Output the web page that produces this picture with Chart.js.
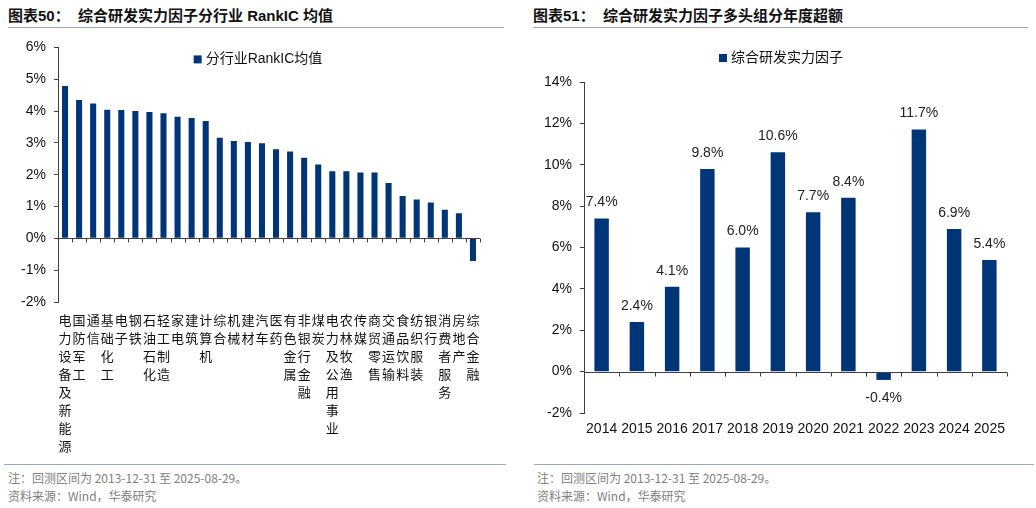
<!DOCTYPE html>
<html>
<head>
<meta charset="utf-8">
<script src="https://cdn.jsdelivr.net/npm/chart.js@4.4.1/dist/chart.umd.min.js"></script>
<style>
    body { margin: 0; background: #fff; width: 1036px; height: 508px; position: relative; overflow: hidden;
           font-family: Arial, "Liberation Sans", "Noto Sans CJK SC", sans-serif; }
    .title { position: absolute; top: 6px; font-size: 15px; line-height: 20px; font-weight: bold; color: #111; white-space: nowrap; }
    .rule { position: absolute; height: 1px; background: #9aabbf; }
    .note { position: absolute; font-size: 12px; line-height: 16px; color: #808080; white-space: nowrap;
            font-family: "Liberation Sans Narrow", "Noto Sans CJK SC", sans-serif; }
    .box { position: absolute; }
</style>
</head>
<body>
<div class="title" style="left:8px">图表50： &nbsp;综合研发实力因子分行业 RankIC 均值</div>
<div class="rule" style="left:8px;width:496px;top:27px"></div>
<div class="title" style="left:533px">图表51： &nbsp;综合研发实力因子多头组分年度超额</div>
<div class="rule" style="left:533px;width:495px;top:27px"></div>

<div class="box" style="left:0;top:31px;width:510px;height:430px"><canvas id="industryChart"></canvas></div>
<div class="box" style="left:520px;top:36px;width:516px;height:410px"><canvas id="yearChart"></canvas></div>

<div class="rule" style="left:4px;width:502px;top:464px"></div>
<div class="rule" style="left:534px;width:500px;top:464px"></div>
<div class="note" style="left:8px;top:470px">注：回测区间为 2013-12-31 至 2025-08-29。</div>
<div class="note" style="left:8px;top:488px">资料来源：Wind，华泰研究</div>
<div class="note" style="left:537px;top:470px">注：回测区间为 2013-12-31 至 2025-08-29。</div>
<div class="note" style="left:537px;top:488px">资料来源：Wind，华泰研究</div>

<script>
// data (values in %)
const industries = ['电力设备及新能源', '国防军工', '通信', '基础化工', '电子', '钢铁', '石油石化', '轻工制造',
    '家电', '建筑', '计算机', '综合', '机械', '建材', '汽车', '医药', '有色金属', '非银行金融', '煤炭',
    '电力及公用事业', '农林牧渔', '传媒', '商贸零售', '交通运输', '食品饮料', '纺织服装', '银行',
    '消费者服务', '房地产', '综合金融'];
const rankIC = [4.79, 4.35, 4.24, 4.04, 4.03, 4.00, 3.97, 3.93, 3.82, 3.78, 3.69, 3.16, 3.06, 3.03, 2.99,
    2.80, 2.73, 2.53, 2.32, 2.11, 2.11, 2.07, 2.07, 1.74, 1.33, 1.22, 1.13, 0.90, 0.79, -0.71];

const years = ['2014', '2015', '2016', '2017', '2018', '2019', '2020', '2021', '2022', '2023', '2024', '2025'];
const excess = [7.4, 2.4, 4.1, 9.8, 6.0, 10.6, 7.7, 8.4, -0.4, 11.7, 6.9, 5.4];

const barColor = '#003578';
const axisColor = '#404040';
const latinFont = "Arial, 'Liberation Sans', sans-serif";
const cjkFont = "'Noto Sans CJK SC', sans-serif";

// zero line with small ticks between categories
const zeroAxis = {
    id: 'zeroAxis',
    afterDatasetsDraw(chart) {
        const { ctx, chartArea, scales: { x, y } } = chart;
        const y0 = Math.round(y.getPixelForValue(0)) + 0.5;
        ctx.save();
        ctx.strokeStyle = axisColor;
        ctx.lineWidth = 1;
        ctx.beginPath();
        ctx.moveTo(chartArea.left, y0);
        ctx.lineTo(chartArea.right, y0);
        for (let i = 0; i <= x.ticks.length; i++) {
            const px = Math.round(x.getPixelForValue(i - 0.5)) + 0.5;
            ctx.moveTo(px, y0);
            ctx.lineTo(px, y0 + 4);
        }
        ctx.stroke();
        ctx.restore();
    }
};

// value labels above (or below) the bars
const valueLabels = {
    id: 'valueLabels',
    afterDatasetsDraw(chart) {
        const { ctx } = chart;
        const ds = chart.data.datasets[0];
        ctx.save();
        ctx.font = '14px ' + latinFont;
        ctx.fillStyle = '#222';
        ctx.textAlign = 'center';
        ctx.textBaseline = 'middle';
        chart.getDatasetMeta(0).data.forEach((bar, i) => {
            const v = ds.data[i];
            const ty = v >= 0 ? bar.y - 16 : bar.y + 18;
            ctx.fillText(v.toFixed(1) + '%', bar.x, ty);
        });
        ctx.restore();
    }
};

// single-item legend, centred on the panel, offset from the plot top
const panelLegend = {
    id: 'panelLegend',
    afterDraw(chart, args, opts) {
        const { ctx, chartArea } = chart;
        const ds = chart.data.datasets[0];
        ctx.save();
        ctx.font = '14px ' + latinFont.replace('sans-serif', cjkFont);
        const tw = ctx.measureText(ds.label).width;
        const total = 8 + 4 + tw;
        const x0 = chart.width / 2 + 3 - total / 2;
        const cy = chartArea.top + opts.offset;
        ctx.fillStyle = ds.backgroundColor;
        ctx.fillRect(x0, cy - 4, 8, 8);
        ctx.fillStyle = '#111';
        ctx.textBaseline = 'middle';
        ctx.fillText(ds.label, x0 + 12, cy);
        ctx.restore();
    }
};

function yScale(min, max, step, width) {
    return {
        min, max,
        afterFit: s => { s.width = width; },
        border: { display: true, color: axisColor },
        grid: { display: true, drawOnChartArea: false, tickLength: 4, color: axisColor },
        ticks: { stepSize: step, padding: 8, color: '#111', font: { size: 14, family: latinFont },
                 callback: v => v + '%' }
    };
}

function createBarChart(canvasId, labels, values, name, opts) {
    return new Chart(document.getElementById(canvasId), {
        type: 'bar',
        data: { labels, datasets: [{ label: name, data: values, backgroundColor: barColor,
                                     barPercentage: opts.barPercentage, categoryPercentage: 1 }] },
        options: {
            responsive: true,
            maintainAspectRatio: false,
            animation: false,
            layout: { padding: opts.padding },
            plugins: {
                legend: { display: false },
                tooltip: { enabled: false },
                panelLegend: { offset: opts.legendOffset }
            },
            scales: {
                x: {
                    afterFit: s => { s.height = opts.xHeight; },
                    border: { display: false },
                    grid: { display: false, drawTicks: false },
                    ticks: { autoSkip: false, maxRotation: 0, minRotation: 0, padding: opts.xPadding, color: '#111',
                             font: opts.xFont }
                },
                y: yScale(opts.min, opts.max, opts.step, opts.yWidth)
            }
        },
        plugins: [zeroAxis, panelLegend, ...opts.plugins]
    });
}

createBarChart('industryChart', industries.map(s => s.split('')), rankIC, '分行业RankIC均值', {
    barPercentage: 0.43,
    padding: { top: 4, right: 30, left: 0, bottom: 0 },
    legendOffset: 12,
    xHeight: 159,
    xPadding: 9,
    xFont: { size: 13, family: cjkFont, lineHeight: '18px' },
    min: -2, max: 6, step: 1, yWidth: 58,
    plugins: []
});

createBarChart('yearChart', years, excess, '综合研发实力因子', {
    barPercentage: 0.41,
    padding: { top: 46, right: 29, left: 0, bottom: 0 },
    legendOffset: -24,
    xHeight: 33,
    xPadding: 8,
    xFont: { size: 14, family: latinFont },
    min: -2, max: 14, step: 2, yWidth: 64,
    plugins: [valueLabels]
});
</script>
</body>
</html>
